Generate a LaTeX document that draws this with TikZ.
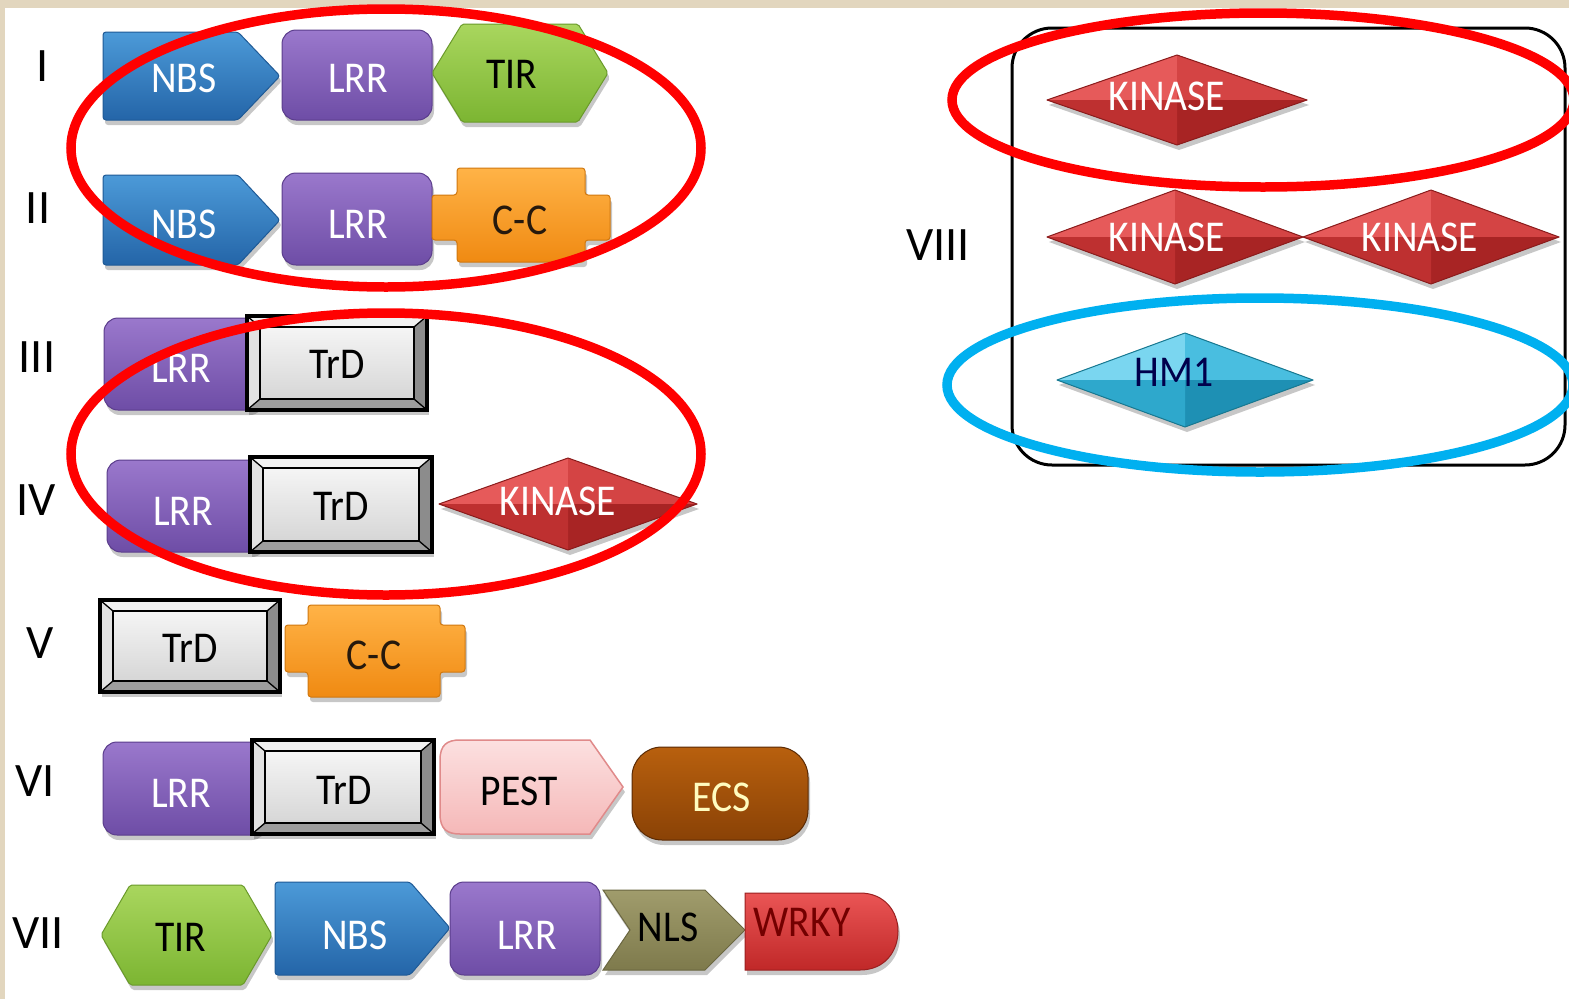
\documentclass[tikz,border=0pt]{standalone}
\usepackage{fontspec}
\usepackage{graphicx}
\setmainfont{Carlito}
\usetikzlibrary{shadows}
\definecolor{nbsT}{HTML}{4C9AD8}\definecolor{nbsB}{HTML}{2465A8}\definecolor{nbsD}{HTML}{1F5A96}
\definecolor{lrrT}{HTML}{9A78CC}\definecolor{lrrB}{HTML}{6E4DA6}\definecolor{lrrD}{HTML}{5B3D8C}
\definecolor{tirT}{HTML}{A9D65E}\definecolor{tirB}{HTML}{7CB532}\definecolor{tirD}{HTML}{6A9A2A}
\definecolor{ccT}{HTML}{FFB347}\definecolor{ccB}{HTML}{F08A12}\definecolor{ccD}{HTML}{D07810}
\definecolor{pestT}{HTML}{FCE0E0}\definecolor{pestB}{HTML}{F5B8B8}\definecolor{pestD}{HTML}{E08A8A}
\definecolor{ecsT}{HTML}{B8600E}\definecolor{ecsB}{HTML}{8A4206}\definecolor{ecsD}{HTML}{5A2A04}
\definecolor{nlsT}{HTML}{A09C6C}\definecolor{nlsB}{HTML}{7E7A4C}\definecolor{nlsD}{HTML}{6A6640}
\definecolor{wrkyT}{HTML}{EA5555}\definecolor{wrkyB}{HTML}{C02828}\definecolor{wrkyD}{HTML}{9A2020}
\definecolor{kA}{HTML}{E65A5A}\definecolor{kB}{HTML}{D44444}\definecolor{kC}{HTML}{BE3030}\definecolor{kD}{HTML}{A82424}\definecolor{kE}{HTML}{8A1C1C}
\definecolor{hA}{HTML}{7AD6F0}\definecolor{hB}{HTML}{49BEE0}\definecolor{hC}{HTML}{2EA8CC}\definecolor{hD}{HTML}{1E90B4}\definecolor{hE}{HTML}{187890}
\definecolor{trdO}{HTML}{B0B0B0}\definecolor{trdTop}{HTML}{F2F2F2}\definecolor{trdL}{HTML}{E2E2E2}\definecolor{trdR}{HTML}{8C8C8C}\definecolor{trdBt}{HTML}{9E9E9E}
\definecolor{ovred}{HTML}{FF0000}\definecolor{ovblue}{HTML}{00B0F0}
\definecolor{bgtan}{HTML}{E2D6BE}
\tikzset{
  box/.style={drop shadow={shadow xshift=2pt,shadow yshift=-5pt,opacity=0.22,fill=black}},
  lab/.style={font=\fontsize{44}{44}\selectfont, inner sep=0pt, anchor=center},
  num/.style={font=\fontsize{48}{48}\selectfont, inner sep=0pt, anchor=center},
  nbs/.style={box, top color=nbsT, bottom color=nbsB, draw=nbsD, line width=1pt, rounded corners=3pt},
  lrr/.style={box, top color=lrrT, bottom color=lrrB, draw=lrrD, line width=1pt, rounded corners=14pt},
  tir/.style={box, top color=tirT, bottom color=tirB, draw=tirD, line width=1pt, rounded corners=2pt},
  cc/.style={box, top color=ccT, bottom color=ccB, draw=ccD, line width=1pt, rounded corners=3pt},
  pest/.style={box, top color=pestT, bottom color=pestB, draw=pestD, line width=1.5pt},
  ecs/.style={box, top color=ecsT, bottom color=ecsB, draw=ecsD, line width=1pt, rounded corners=30pt},
  nls/.style={box, top color=nlsT, bottom color=nlsB, draw=nlsD, line width=1pt},
  wrky/.style={box, top color=wrkyT, bottom color=wrkyB, draw=wrkyD, line width=1pt},
  oval/.style={line width=9.5pt},
}
\newcommand\lbl[1]{\scalebox{0.9}[1]{#1}}
\newcommand\mytrd[4]{%
  \fill[box, fill=trdO] (#1,#2) rectangle (#3,#4);
  \fill[trdTop] (#1,#2) -- (#3,#2) -- ({#3-13},{#2+11}) -- ({#1+13},{#2+11}) -- cycle;
  \fill[trdL] (#1,#2) -- ({#1+13},{#2+11}) -- ({#1+13},{#4-11}) -- (#1,#4) -- cycle;
  \fill[trdR] (#3,#2) -- ({#3-13},{#2+11}) -- ({#3-13},{#4-11}) -- (#3,#4) -- cycle;
  \fill[trdBt] (#1,#4) -- ({#1+13},{#4-11}) -- ({#3-13},{#4-11}) -- (#3,#4) -- cycle;
  \shade[top color=gray!8, bottom color=gray!32] ({#1+13},{#2+11}) rectangle ({#3-13},{#4-11});
  \draw[line width=2.4pt] ({#1+13},{#2+11}) rectangle ({#3-13},{#4-11});
  \draw[line width=1.3pt] (#1,#2) -- ({#1+13},{#2+11}) (#3,#2) -- ({#3-13},{#2+11})
     (#1,#4) -- ({#1+13},{#4-11}) (#3,#4) -- ({#3-13},{#4-11});
  \draw[line width=3.6pt] (#1,#2) rectangle (#3,#4);
}
\newcommand\mydiam[9]{%
  \path[box, fill=#6] ({#1-#3},#2) -- (#1,{#2-#4}) -- ({#1+#3},#2) -- (#1,{#2+#4}) -- cycle;
  \fill[#5] ({#1-#3},#2) -- (#1,{#2-#4}) -- (#1,#2) -- cycle;
  \fill[#6] (#1,{#2-#4}) -- ({#1+#3},#2) -- (#1,#2) -- cycle;
  \fill[#8] ({#1+#3},#2) -- (#1,{#2+#4}) -- (#1,#2) -- cycle;
  \fill[#7] (#1,{#2+#4}) -- ({#1-#3},#2) -- (#1,#2) -- cycle;
  \draw[#9, line width=1pt, line join=round] ({#1-#3},#2) -- (#1,{#2-#4}) -- ({#1+#3},#2) -- (#1,{#2+#4}) -- cycle;
}
\begin{document}
\begin{tikzpicture}[x=1pt,y=-1pt]
\useasboundingbox (0,0) rectangle (1569,999);
\fill[white] (0,0) rectangle (1569,999);
\fill[bgtan] (0,0) rectangle (1569,8);
\fill[bgtan] (0,0) rectangle (5,999);

% ---- Row I
\path[nbs] (103,32) -- (238,32) -- (280,76) -- (238,120) -- (103,120) -- cycle;
\path[lrr] (282,30) rectangle (432,120);
\path[tir] (432,73) -- (462,24) -- (578,24) -- (608,73) -- (578,122) -- (462,122) -- cycle;
\node[lab, text=white] (nbs1) at (184,78) {\lbl{NBS}};
\node[lab, text=white] (lrr1) at (358,78) {\lbl{LRR}};
\node[lab, text=black] (tir1) at (512,74) {\lbl{TIR}};
\node[num] (r1) at (43,66) {I};

% ---- Row II
\path[nbs] (103,175) -- (238,175) -- (280,220) -- (238,265) -- (103,265) -- cycle;
\path[lrr] (282,173) rectangle (432,265);
\path[cc] (457,168) -- (585,168) -- (585,195) -- (610,195) -- (610,240) -- (585,240) -- (585,262)
   -- (457,262) -- (457,240) -- (432,240) -- (432,195) -- (457,195) -- cycle;
\node[lab, text=white] (nbs2) at (184,224) {\lbl{NBS}};
\node[lab, text=white] (lrr2) at (358,224) {\lbl{LRR}};
\node[lab, text=black!80!brown] (cc2) at (520,220) {\lbl{C-C}};
\node[num] (r2) at (38,208) {II};

% ---- Row III
\path[lrr] (104,318) rectangle (262,410);
\mytrd{247}{316}{427}{410}
\node[lab, text=white] (lrr3) at (181,368) {\lbl{LRR}};
\node[lab, text=black] (trd3) at (337,364) {\lbl{TrD}};
\node[num] (r3) at (37,357) {III};

% ---- Row IV
\path[lrr] (107,460) rectangle (264,552);
\mytrd{250}{457}{432}{552}
\mydiam{568}{504}{129}{46}{kA}{kB}{kC}{kD}{kE}
\node[lab, text=white] (lrr4) at (183,511) {\lbl{LRR}};
\node[lab, text=black] (trd4) at (341,506) {\lbl{TrD}};
\node[lab, text=white] (kin4) at (558,501) {\lbl{KINASE}};
\node[num] (r4) at (36,500) {IV};

% ---- Row V
\mytrd{100}{600}{280}{692}
\path[cc] (308,605) -- (440,605) -- (440,625) -- (465,625) -- (465,672) -- (440,672) -- (440,697)
   -- (308,697) -- (308,672) -- (285,672) -- (285,625) -- (308,625) -- cycle;
\node[lab, text=black] (trd5) at (190,648) {\lbl{TrD}};
\node[lab, text=black!80!brown] (cc5) at (374,655) {\lbl{C-C}};
\node[num] (r5) at (40,643) {V};

% ---- Row VI
\path[lrr] (103,742) rectangle (264,835);
\mytrd{252}{740}{434}{834}
\path[pest] (440,760) .. controls (440,745) and (447,740) .. (460,740) -- (590,740) -- (623,787)
   -- (590,834) -- (460,834) .. controls (447,834) and (440,829) .. (440,814) -- cycle;
\path[ecs] (632,747) rectangle (808,840);
\node[lab, text=white] (lrr6) at (181,793) {\lbl{LRR}};
\node[lab, text=black] (trd6) at (344,790) {\lbl{TrD}};
\node[lab, text=black] (pest6) at (519,791) {\lbl{PEST}};
\node[lab, text=yellow!25!white] (ecs6) at (722,797) {\lbl{ECS}};
\node[num] (r6) at (35,781) {VI};

% ---- Row VII
\path[tir] (101,935) -- (130,885) -- (243,885) -- (272,935) -- (243,985) -- (130,985) -- cycle;
\path[nbs] (275,882) -- (410,882) -- (450,928) -- (410,975) -- (275,975) -- cycle;
\path[lrr] (450,882) rectangle (600,975);
\path[nls] (603,890) -- (705,890) -- (745,930) -- (705,970) -- (603,970) -- (630,930) -- cycle;
\path[wrky] (745,893) -- (860,893) .. controls (885,893) and (898,912) .. (898,931)
   .. controls (898,951) and (885,970) .. (860,970) -- (745,970) -- cycle;
\node[lab, text=black] (tir7) at (181,937) {\lbl{TIR}};
\node[lab, text=white] (nbs7) at (355,935) {\lbl{NBS}};
\node[lab, text=white] (lrr7) at (527,935) {\lbl{LRR}};
\node[lab, text=black] (nls7) at (668,927) {\lbl{NLS}};
\node[lab, text=red!45!black] (wrky7) at (802,922) {\lbl{WRKY}};
\node[num] (r7) at (38,933) {VII};

% ---- Right panel VIII
\draw[line width=3pt, rounded corners=40pt] (1012,28) rectangle (1565,465);
\mydiam{1177}{100}{130}{45}{kA}{kB}{kC}{kD}{kE}
\mydiam{1175}{237}{128}{47}{kA}{kB}{kC}{kD}{kE}
\mydiam{1431}{237}{128}{47}{kA}{kB}{kC}{kD}{kE}
\mydiam{1185}{380}{128}{47}{hA}{hB}{hC}{hD}{hE}
\node[lab, text=white] (kin8a) at (1167,96) {\lbl{KINASE}};
\node[lab, text=white] (kin8b) at (1167,237) {\lbl{KINASE}};
\node[lab, text=white] (kin8c) at (1420,237) {\lbl{KINASE}};
\node[lab, text=blue!30!black] (hm1) at (1174,372) {\lbl{HM1}};
\node[num] (r8) at (938,245) {VIII};

% ---- Highlight ovals
\draw[oval, ovred] (386,148) ellipse [x radius=315, y radius=139];
\draw[oval, ovred] (386,454) ellipse [x radius=315, y radius=141];
\draw[oval, ovred] (1263,100) ellipse [x radius=311, y radius=87];
\draw[oval, ovblue] (1260,385) ellipse [x radius=313, y radius=87];
\end{tikzpicture}
\end{document}
